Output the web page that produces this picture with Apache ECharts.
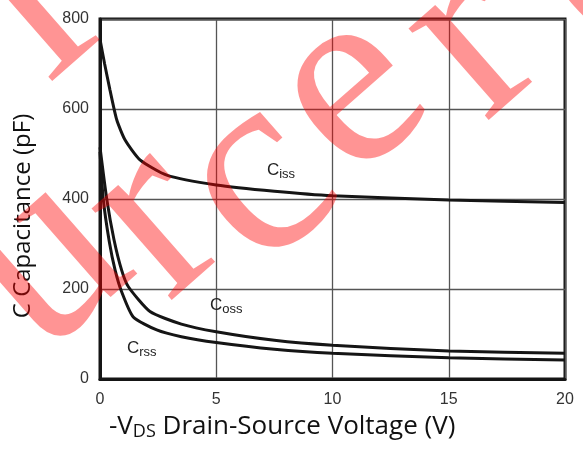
<!DOCTYPE html>
<html><head><meta charset="utf-8">
<script src="https://cdn.jsdelivr.net/npm/echarts@6/dist/echarts.min.js"></script>
<style>html,body{margin:0;padding:0;background:#fff}#c{width:583px;height:450px}</style>
</head><body><div id="c"></div>
<script>
// Data
const xTicks = [0, 5, 10, 15, 20];
const yTicks = [0, 200, 400, 600, 800];
const cissV = [0, 0.2, 0.43, 0.72, 1.08, 1.72, 2.87, 5, 7.5, 10, 15, 20];
const cissC = [755, 700, 642, 576, 531, 487, 453, 431, 417, 407, 398, 392];
const cossV = [0, 0.29, 0.6, 0.93, 1.22, 2.15, 3.5, 5, 7.5, 10, 15, 20];
const cossC = [515, 400, 310, 242, 205, 150, 122, 105, 86, 75, 62, 57];
const crssV = [0, 0.14, 0.4, 0.65, 0.93, 1.43, 2.44, 3.5, 5, 7.5, 10, 15, 20];
const crssC = [505, 400, 305, 242, 194, 138, 109, 94, 81, 66, 57, 47, 42];
const seriesNames = ['iss', 'oss', 'rss'];
const labelPos = [[7.18, 464], [4.73, 164], [1.16, 69]];

const chart = echarts.init(document.getElementById('c'));
const zip = (a, b) => a.map((v, i) => [v, b[i]]);
const lineStyle = {color: '#151515', width: 3};
function mk(name, data, pos) {
  return {
    type: 'line', name: name, data: data, smooth: 0.2, showSymbol: false,
    lineStyle: lineStyle, z: 3,
    markPoint: {
      symbol: 'circle', symbolSize: 0, silent: true,
      data: [{coord: pos}],
      label: {show: true, position: 'right', distance: 0,
        formatter: '{c|C}{s|' + name + '}',
        rich: {c: {fontFamily: 'Liberation Sans', fontSize: 17, color: '#222'},
               s: {fontFamily: 'Liberation Sans', fontSize: 13, color: '#222', padding: [8, 0, 0, 0]}}}
    }
  };
}
const wm = {fontFamily: 'Liberation Serif', fontSize: 265, fill: 'rgba(255,0,0,0.42)'};
const wmLetters = [
  ['u', 45, 262], ['r', 155, 222], ['c', 258, 182], ['e', 350, 92], ['r', 472, 42], ['e', 605, -32], ['l', 30, 8]
];
chart.setOption({
  animation: false,
  grid: {left: 100, right: 18, top: 19, bottom: 71, show: true, borderColor: '#151515', borderWidth: 3, backgroundColor: 'transparent'},
  xAxis: {type: 'value', min: xTicks[0], max: xTicks[xTicks.length - 1], interval: 5,
    axisLine: {show: true, lineStyle: {color: '#151515', width: 3}}, axisTick: {show: false},
    splitLine: {show: true, lineStyle: {color: '#555', width: 1.3}},
    axisLabel: {color: '#333', fontFamily: 'Liberation Sans', fontSize: 16, margin: 13}},
  yAxis: {type: 'value', min: yTicks[0], max: yTicks[yTicks.length - 1], interval: 200,
    axisLine: {show: true, lineStyle: {color: '#151515', width: 3}}, axisTick: {show: false},
    splitLine: {show: true, lineStyle: {color: '#555', width: 1.3}},
    axisLabel: {color: '#333', fontFamily: 'Liberation Sans', fontSize: 16, margin: 11}},
  series: [
    mk(seriesNames[0], zip(cissV, cissC), labelPos[0]),
    mk(seriesNames[1], zip(cossV, cossC), labelPos[1]),
    mk(seriesNames[2], zip(crssV, crssC), labelPos[2])
  ],
  graphic: [
    {type: 'text', left: 109, top: 414, style: {
      text: '{a|-V}{s|DS}{a| Drain-Source Voltage (V)}',
      rich: {a: {fontFamily: 'Open Sans', fontSize: 26, fill: '#111'},
             s: {fontFamily: 'Open Sans', fontSize: 18, fill: '#111', padding: [9, 0, 0, 0]}}}},
    {type: 'text', x: 23, y: 216, rotation: Math.PI / 2, style: {
      text: 'C Capacitance (pF)', fontFamily: 'Open Sans', fontSize: 24, fill: '#111',
      align: 'center', verticalAlign: 'middle'}}
  ].concat(wmLetters.map(l => ({type: 'text', x: l[1], y: l[2], rotation: 0.72, z: 100,
      style: Object.assign({text: l[0], align: 'center', verticalAlign: 'middle'}, wm)})))
});
</script></body></html>
